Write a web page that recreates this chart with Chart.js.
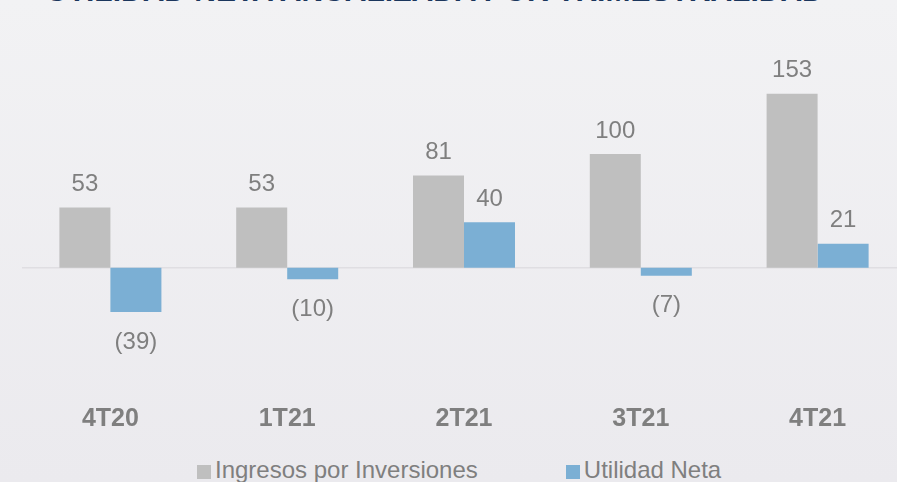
<!DOCTYPE html>
<html lang="es">
<head>
<meta charset="utf-8">
<title>Utilidad neta por trimestralidad</title>
<script src="https://cdn.jsdelivr.net/npm/chart.js@4.4.1/dist/chart.umd.min.js"></script>
<style>
    html, body {
        margin: 0;
        padding: 0;
        width: 897px;
        height: 482px;
        overflow: hidden;
        background: linear-gradient(#f2f2f4, #ebeaee);
        font-family: "Liberation Sans", Arial, sans-serif;
    }
    .chart-title {
        position: absolute;
        left: 46px;
        top: -24px;
        font-size: 30px;
        line-height: 30px;
        font-weight: bold;
        color: #1b365d;
        white-space: nowrap;
    }
    .chart-box {
        position: absolute;
        left: 0;
        top: 0;
        width: 906px;
        height: 440px;
    }
    .chart-legend {
        position: absolute;
        left: 197px;
        top: 456px;
        display: flex;
        gap: 88px;
        font-size: 24px;
        line-height: 28px;
        color: #7f7f7f;
    }
    .chart-legend span.item {
        display: flex;
        align-items: center;
        white-space: nowrap;
    }
    .chart-legend i {
        display: inline-block;
        width: 14px;
        height: 14px;
        margin-right: 4px;
        margin-top: 3px;
    }
</style>
</head>
<body>
<div class="chart-title">UTILIDAD NETA ANUALIZADA POR TRIMESTRALIDAD</div>
<div class="chart-box"><canvas id="utilidadChart" width="906" height="440"></canvas></div>
<div class="chart-legend" id="chartLegend"></div>

<script>
// Datos del grafico
const categories = ["4T20", "1T21", "2T21", "3T21", "4T21"];
const ingresos = [53, 53, 81, 100, 153];
const utilidad = [-39, -10, 40, -7, 21];
const seriesNames = ["Ingresos por Inversiones", "Utilidad Neta"];
const seriesColors = ["#bfbfbf", "#7bafd4"];

const labelColor = "#7f7f7f";
const fontFamily = "'Liberation Sans', Arial, sans-serif";

// Zero line across the plot area
const zeroLinePlugin = {
    id: "zeroLine",
    beforeDatasetsDraw(chart) {
        const { ctx, chartArea, scales } = chart;
        const y = scales.y.getPixelForValue(0);
        ctx.save();
        ctx.strokeStyle = "#dfdee2";
        ctx.lineWidth = 1.5;
        ctx.beginPath();
        ctx.moveTo(chartArea.left, y);
        ctx.lineTo(chartArea.right, y);
        ctx.stroke();
        ctx.restore();
    },
};

// Value labels above / below each bar, negatives in parentheses
const valueLabelPlugin = {
    id: "valueLabels",
    afterDatasetsDraw(chart) {
        const { ctx } = chart;
        ctx.save();
        ctx.font = `24px ${fontFamily}`;
        ctx.fillStyle = labelColor;
        ctx.textAlign = "center";
        ctx.textBaseline = "middle";
        chart.data.datasets.forEach((dataset, i) => {
            const meta = chart.getDatasetMeta(i);
            meta.data.forEach((bar, j) => {
                const value = dataset.data[j];
                const text = value < 0 ? `(${-value})` : `${value}`;
                const y = value < 0 ? bar.y + 30 : bar.y - 23;
                ctx.fillText(text, bar.x, y);
            });
        });
        ctx.restore();
    },
};

const chart = new Chart(document.getElementById("utilidadChart"), {
    type: "bar",
    data: {
        labels: categories,
        datasets: [
            {
                label: seriesNames[0],
                data: ingresos,
                backgroundColor: seriesColors[0],
                borderWidth: 0,
            },
            {
                label: seriesNames[1],
                data: utilidad,
                backgroundColor: seriesColors[1],
                borderWidth: 0,
            },
        ],
    },
    options: {
        responsive: false,
        animation: false,
        events: [],
        layout: {
            padding: { left: 22, right: 0, top: 63, bottom: 8 },
        },
        datasets: {
            bar: {
                barPercentage: 1,
                categoryPercentage: 0.577,
            },
        },
        plugins: {
            legend: { display: false },
            tooltip: { enabled: false },
        },
        scales: {
            x: {
                // hidden tick marks give the gap under the plot, so the
                // label padding doesn't add side padding to the plot area
                grid: { display: false, drawTicks: true, tickLength: 68 },
                border: { display: false },
                ticks: {
                    color: labelColor,
                    padding: 0,
                    font: { family: fontFamily, size: 25, weight: "bold" },
                },
                afterFit(scale) {
                    scale.height = 96;
                },
            },
            y: {
                display: false,
                min: -60,
                max: 180,
            },
        },
    },
    plugins: [zeroLinePlugin, valueLabelPlugin],
});

// HTML legend built from the dataset labels and colours
const legendEl = document.getElementById("chartLegend");
chart.data.datasets.forEach((ds) => {
    const item = document.createElement("span");
    item.className = "item";
    item.innerHTML = `<i style="background:${ds.backgroundColor}"></i>${ds.label}`;
    legendEl.appendChild(item);
});
</script>
</body>
</html>
